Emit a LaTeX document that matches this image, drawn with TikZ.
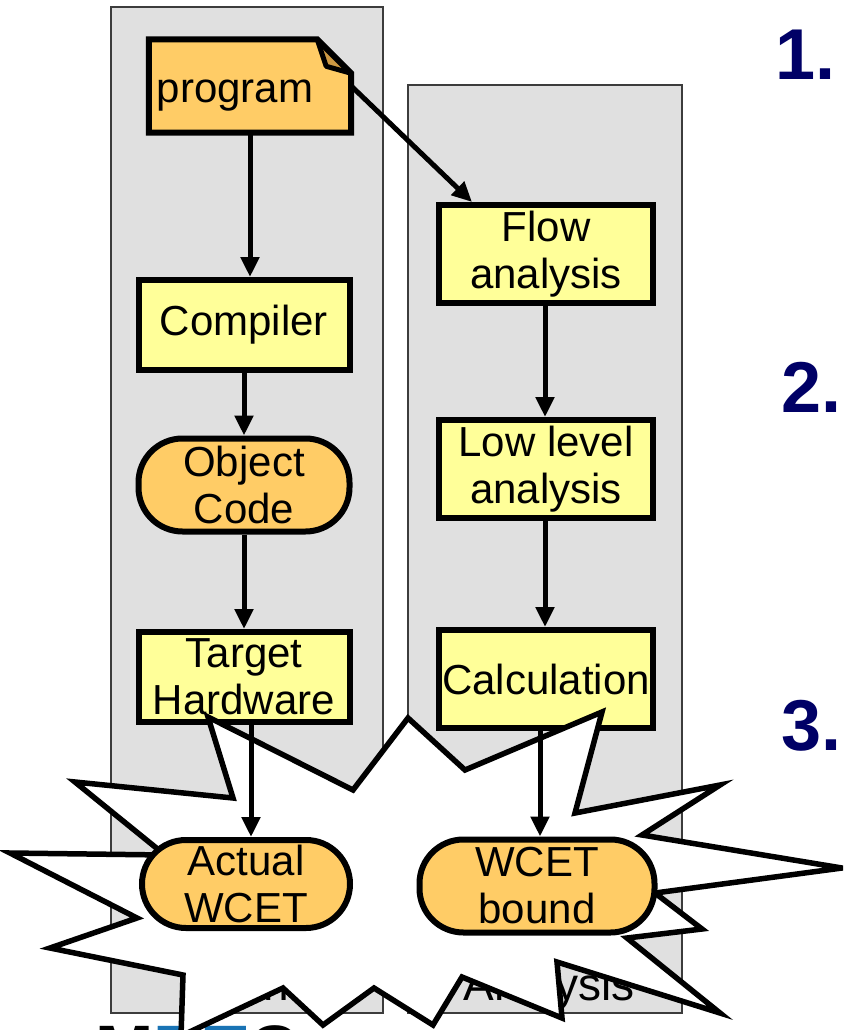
\documentclass[tikz,border=0pt]{standalone}
\usepackage{fontspec}
\setmainfont{Liberation Sans}
\usetikzlibrary{arrows.meta,calc}

\definecolor{panelgray}{RGB}{224,224,224}
\definecolor{paneledge}{RGB}{60,60,60}
\definecolor{boxyellow}{RGB}{255,255,153}
\definecolor{pillorange}{RGB}{255,204,102}
\definecolor{foldtan}{RGB}{204,153,68}
\definecolor{navy}{RGB}{0,0,102}
\definecolor{logoblue}{RGB}{25,115,180}

\newcommand{\boxfont}{\fontsize{42}{47}\selectfont}

\tikzset{
  panel/.style={draw=paneledge, line width=1.8pt, fill=panelgray},
  paneltitle/.style={anchor=base, font=\fontsize{46}{46}\selectfont},
  stepbox/.style={draw=black, line width=6pt, fill=boxyellow, inner sep=0pt,
    align=center, font=\boxfont},
  pill/.style={draw=black, line width=6pt, fill=pillorange, inner sep=0pt,
    align=center, font=\boxfont, rounded corners=44pt},
  flowarrow/.style={line width=5pt, -{Triangle[length=20pt,width=18pt]}},
  stepnum/.style={anchor=base west, text=navy,
    font=\fontsize{72}{72}\selectfont\bfseries},
  burst/.style={draw=black, line width=5.5pt, fill=white, line join=miter}
}

\begin{document}
\begin{tikzpicture}[x=1pt,y=-1pt]
\useasboundingbox (0,0) rectangle (843,1030);
\clip (0,0) rectangle (843,1030);

% two tool-chain columns
\draw[panel] (111,7) rectangle (383,1013);
\draw[panel] (408,85) rectangle (682,1013);
\node[paneltitle] (lefttitle) at (247,1000) {Run};
\node[paneltitle] (righttitle) at (549,1000) {Analysis};

% logo below the columns
\node[anchor=base west, inner sep=0pt, font=\fontsize{70}{70}\selectfont\bfseries]
  (logo) at (95,1074) {M\textcolor{logoblue}{RT}\kern2pt C};

% source document with a folded corner
\node[minimum width=202pt, minimum height=93pt, inner sep=0pt] (program) at (250,86) {};
\fill[pillorange] (program.south west) -- (program.north west)
  -- ($(program.north east)+(-34,0)$) -- ($(program.north east)+(0,34)$)
  -- (program.south east) -- cycle;
\draw[line width=5pt, fill=foldtan, line join=round]
  ($(program.north east)+(-34,0)$) -- ($(program.north east)+(-25,27)$)
  -- ($(program.north east)+(0,34)$);
\draw[line width=6pt, line join=miter] (program.south west) -- (program.north west)
  -- ($(program.north east)+(-34,0)$) -- ($(program.north east)+(0,34)$)
  -- (program.south east) -- cycle;
\node[font=\boxfont, anchor=base] (programtext) at (235,103) {program};

% left column: compile and run
\node[stepbox, minimum width=211pt, minimum height=90pt] (compiler) at (244,325) {Compiler};
\node[pill, minimum width=211pt, minimum height=93pt] (objcode) at (244,485) {Object\\Code};
\node[stepbox, minimum width=211pt, minimum height=90pt] (target) at (244,677) {Target\\Hardware};

% right column: static analysis
\node[stepbox, minimum width=214pt, minimum height=98pt] (flow) at (546,254) {Flow\\analysis};
\node[stepbox, minimum width=214pt, minimum height=98pt] (low) at (546,469) {Low level\\analysis};
\node[stepbox, minimum width=214pt, minimum height=98pt] (calc) at (546,679) {Calculation};

\draw[flowarrow] (program.south) -- (program.south |- compiler.north);
\draw[flowarrow] (compiler.south) -- (objcode.north);
\draw[flowarrow] (objcode.south) -- (target.north);
\draw[flowarrow] (program.east) -- ($(flow.north west)+(36,0)$);
\draw[flowarrow] ([xshift=-1pt]flow.south) -- ([xshift=-1pt]flow.south |- low.north);
\draw[flowarrow] ([xshift=-1pt]low.south) -- ([xshift=-1pt]low.south |- calc.north);

% step numbers
\node[stepnum] (one) at (772,80) {1.};
\node[stepnum] (two) at (778,412) {2.};
\node[stepnum] (three) at (778,750) {3.};

% burst
\draw[burst] (208,717) -- (353,790) -- (408,718) -- (465,770) -- (602,712)
  -- (575,813) -- (720,785) -- (642,835) -- (842,868) -- (655,893)
  -- (702,929) -- (627,938) -- (720,1013) -- (557,962) -- (562,1018)
  -- (462,977) -- (433,1025) -- (374,988) -- (323,1025) -- (283,988)
  -- (181,1036) -- (183,975) -- (50,948) -- (137,918) -- (10,853)
  -- (165,855) -- (75,782) -- (233,798) -- cycle;

% results
\node[pill, minimum width=208pt, minimum height=88pt] (actual) at (246,884) {Actual\\WCET};
\node[pill, minimum width=235pt, minimum height=93pt] (bound) at (537,886) {WCET\\bound};

\draw[flowarrow] ([xshift=7pt]target.south) -- ([xshift=7pt]target.south |- actual.north);
\draw[flowarrow] ([xshift=-6pt]calc.south) -- ([xshift=-6pt]calc.south |- bound.north);
\end{tikzpicture}
\end{document}
